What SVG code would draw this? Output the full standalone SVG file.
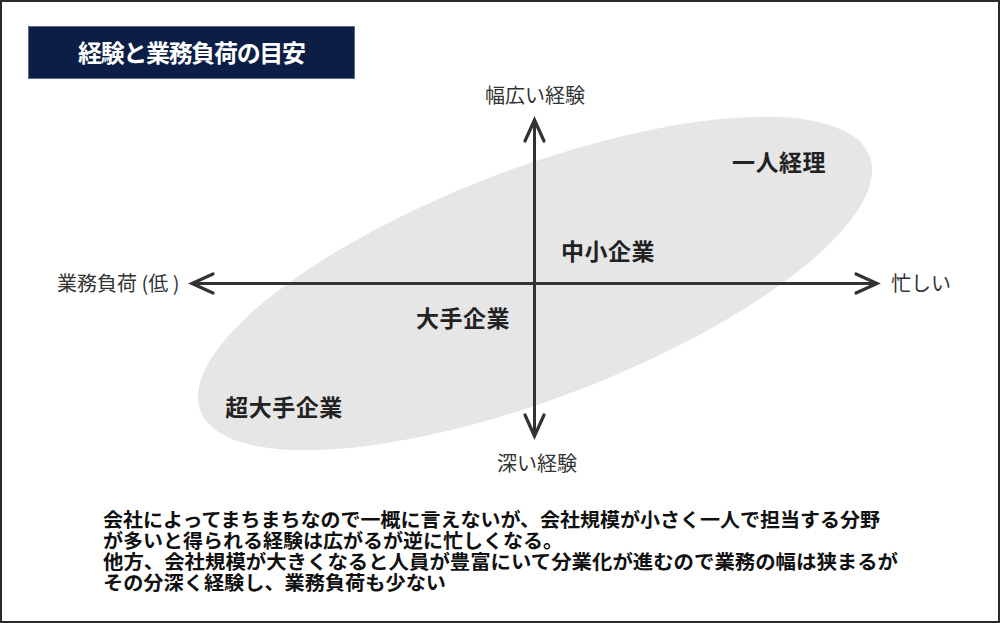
<svg xmlns="http://www.w3.org/2000/svg" width="1000" height="623" viewBox="0 0 1000 623">
  <defs>
    <style>
      .t{font-family:"Noto Sans CJK JP","Noto Sans",sans-serif;}
      .axis{font-size:20px;fill:#333;text-anchor:middle;}
      .quad{font-size:23px;font-weight:bold;fill:#222;text-anchor:middle;letter-spacing:0.5px;}
      .note{font-size:19.5px;font-weight:bold;fill:#111;}
      .ax{stroke:#333;stroke-width:3;fill:none;}
    </style>
    <marker id="chev" markerUnits="userSpaceOnUse" viewBox="-26 -13 30 26" markerWidth="30" markerHeight="26" refX="0" refY="0" orient="auto-start-reverse">
      <path d="M -21 -9.5 L 0 0 L -21 9.5" fill="none" stroke="#333" stroke-width="3.2" stroke-linecap="round" stroke-linejoin="miter"/>
    </marker>
  </defs>
  <rect x="0" y="0" width="1000" height="623" fill="#fff"/>
  <rect x="1" y="1" width="998" height="621" fill="none" stroke="#2a2a2a" stroke-width="2"/>

  <g id="title">
    <rect x="28.5" y="26.5" width="326" height="52" fill="#0c1e45" stroke="#5a6a8c" stroke-width="1"/>
    <text class="t" x="78" y="62" font-size="24" font-weight="bold" fill="#fff" textLength="228" lengthAdjust="spacing">経験と業務負荷の目安</text>
  </g>

  <g id="region">
    <ellipse cx="535" cy="283.5" rx="358" ry="115" fill="#e6e6e6" transform="rotate(-20.85 535 283.5)"/>
  </g>

  <g id="connectors">
    <line class="ax" x1="192" y1="283.5" x2="877" y2="283.5" marker-start="url(#chev)" marker-end="url(#chev)"/>
    <line class="ax" x1="534.5" y1="120" x2="534.5" y2="436" marker-start="url(#chev)" marker-end="url(#chev)"/>
  </g>

  <g id="label-top"><text class="t axis" x="535" y="103">幅広い経験</text></g>
  <g id="label-bottom"><text class="t axis" x="537" y="471">深い経験</text></g>
  <g id="label-left"><text class="t" x="57" y="291" font-size="20" fill="#333">業務負荷 (低 )</text></g>
  <g id="label-right"><text class="t" x="891" y="291" font-size="20" fill="#333">忙しい</text></g>

  <g id="node-hitori"><text class="t quad" x="779" y="171">一人経理</text></g>
  <g id="node-chusho"><text class="t quad" x="608" y="260">中小企業</text></g>
  <g id="node-ote"><text class="t quad" x="463" y="327">大手企業</text></g>
  <g id="node-chouote"><text class="t quad" x="284" y="416">超大手企業</text></g>

  <g id="note">
    <text class="t note" x="103" y="527" textLength="777" lengthAdjust="spacingAndGlyphs">会社によってまちまちなので一概に言えないが、会社規模が小さく一人で担当する分野</text>
    <text class="t note" x="103" y="548" textLength="460" lengthAdjust="spacingAndGlyphs">が多いと得られる経験は広がるが逆に忙しくなる。</text>
    <text class="t note" x="103" y="569" textLength="795" lengthAdjust="spacingAndGlyphs">他方、会社規模が大きくなると人員が豊富にいて分業化が進むので業務の幅は狭まるが</text>
    <text class="t note" x="103" y="590" textLength="343" lengthAdjust="spacingAndGlyphs">その分深く経験し、業務負荷も少ない</text>
  </g>
</svg>
